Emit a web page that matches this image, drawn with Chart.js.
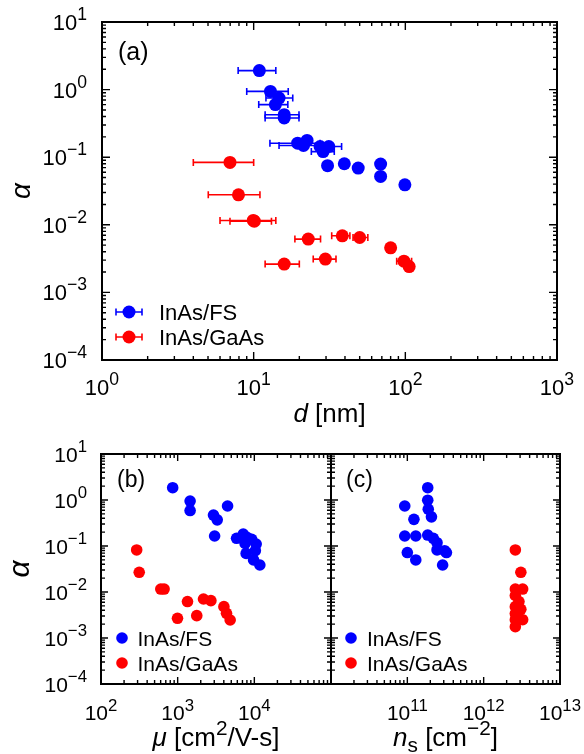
<!DOCTYPE html>
<html><head><meta charset="utf-8">
<script src="https://cdn.jsdelivr.net/npm/chart.js@4"></script>
<style>html,body{margin:0;padding:0;background:#fff}canvas{position:absolute}</style>
</head><body>
<div style="position:relative;width:584px;height:754px;overflow:hidden">
<canvas id="ca" width="584" height="430" style="left:0;top:0"></canvas>
<canvas id="cb" width="341" height="324" style="left:0;top:430px"></canvas>
<canvas id="cc" width="263" height="324" style="left:321px;top:430px"></canvas>
</div>
<script>
// ---------- DATA ----------
// panel (a): alpha vs d [nm]
const dFS      = [10.9, 12.9, 14.7, 13.9, 15.9, 15.9, 19.5, 22.5, 21.3, 27.4, 31.3, 28.7, 30.7, 39.6, 48.9, 68.7, 68.7, 99.3];
const alphaFS_d= [1.91, 0.94, 0.75, 0.60, 0.425,0.38, 0.161,0.177,0.149,0.144,0.144,0.121,0.075,0.080,0.069,0.079,0.052,0.039];
const dFSlo    = [7.9,  9.0,  12.05,10.8, 11.9, 11.9, 12.8, null, 14.7, null, 26.0, 24.0, null, null, null, null, null, null];
const dFShi    = [14.0, 16.9, 18.1, 16.8, 19.9, 19.9, 27.4, null, 27.4, null, 38.0, 34.0, null, null, null, null, null, null];

const dGaAs      = [6.98, 7.94, 9.94, 10.1, 22.9, 38.4, 50.0, 15.9, 29.7, 80.0, 97.9, 106];
const alphaGaAs_d= [0.0837,0.0278,0.0116,0.0113,0.00614,0.00687,0.00649,0.00262,0.00311,0.00456,0.0029,0.00241];
const dGaAslo    = [4.0, 5.02, 6.0, 6.98, 18.7, 32.7, 45.2, 11.9, 24.7, null, 87.7, null];
const dGaAshi    = [10.0,11.0, 14.0,13.1, 27.6, 43.1, 56.6, 20.0, 34.9, null, 110, null];

// panel (b): alpha vs mobility [cm^2/V-s]
const muFS       = [861, 1453, 1453, 2933, 3281, 4477, 3033, 5865, 7164, 8000, 9248, 7570, 10570, 7819, 10300, 9770, 11800];
const alphaFS_mu = [1.85, 0.95, 0.59, 0.47, 0.37, 0.74, 0.165,0.147,0.182,0.154,0.14, 0.114,0.110, 0.069,0.079, 0.0497,0.0386];
const muGaAs       = [292, 315, 603, 665, 1343, 2172, 2712, 995, 1774, 4010, 4335, 4840];
const alphaGaAs_mu = [0.082,0.0268,0.0116,0.0116,0.0062,0.00705,0.00648,0.00268,0.00306,0.0048,0.00344,0.00246];

// panel (c): alpha vs sheet density [cm^-2]
const nsFS       = [9.25e10,1.85e11,1.85e11,1.88e11,2.07e11,1.22e11,9.25e10,1.29e11,1.85e11,2.19e11,2.45e11,3.08e11,3.25e11,1.0e11,1.29e11,2.9e11,2.45e11];
const alphaFS_ns = [0.74, 1.85, 0.99, 0.63, 0.43, 0.38, 0.165,0.165,0.173,0.147,0.118,0.079,0.072,0.072,0.0497,0.0386,0.082];
const nsGaAs       = [2.6e12,3.07e12,2.6e12,3.24e12,2.6e12,2.9e12,2.6e12,3.07e12,2.6e12,2.9e12,2.6e12,3.24e12,2.6e12];
const alphaGaAs_ns = [0.082,0.0268,0.0116,0.0116,0.0084,0.0062,0.0048,0.0042,0.0034,0.0026,0.0025,0.0025,0.00176];

const seriesNames = ['InAs/FS', 'InAs/GaAs'];
const yDecades = [-4,-3,-2,-1,0,1];
const xDecA = [0,1,2,3];
const xDecB = [2,3,4];
const xDecC = [11,12,13];

// ---------- helpers ----------
const FONT = '"Liberation Sans", Arial, Helvetica, sans-serif';
const BLUE = '#0000ff', RED = '#ff0000';
const pts = (xs, ys) => xs.map((x, i) => ({x, y: ys[i]}));

function drawPow(ctx, exp, x, y, align, size) {
  const base = '10', e = String(exp).replace('-', '\u2212');
  ctx.font = size + 'px ' + FONT;
  const wb = ctx.measureText(base).width;
  const es = size * 0.8;
  ctx.font = es + 'px ' + FONT;
  const we = ctx.measureText(e).width;
  const total = wb + we;
  const x0 = align === 'right' ? x - total : align === 'center' ? x - total / 2 : x;
  ctx.textAlign = 'left'; ctx.textBaseline = 'alphabetic'; ctx.fillStyle = '#000';
  ctx.font = size + 'px ' + FONT; ctx.fillText(base, x0, y);
  ctx.font = es + 'px ' + FONT; ctx.fillText(e, x0 + wb, y - size * 0.45);
}

// rich text: parts [{t, it, sup, sub}]
function richWidth(ctx, parts, size) {
  let w = 0;
  for (const p of parts) {
    const s = (p.sup || p.sub) ? size * 0.8 : size;
    ctx.font = (p.it ? 'italic ' : '') + s + 'px ' + FONT;
    w += ctx.measureText(p.t).width;
  }
  return w;
}
function drawRich(ctx, parts, cx, y, size) {
  const w = richWidth(ctx, parts, size);
  let x = cx - w / 2;
  ctx.textAlign = 'left'; ctx.textBaseline = 'alphabetic'; ctx.fillStyle = '#000';
  for (const p of parts) {
    const s = (p.sup || p.sub) ? size * 0.8 : size;
    ctx.font = (p.it ? 'italic ' : '') + s + 'px ' + FONT;
    const dy = p.sup ? -size * 0.42 : p.sub ? size * 0.22 : 0;
    ctx.fillText(p.t, x, y + dy);
    x += ctx.measureText(p.t).width;
  }
}

const errPlugin = {
  id: 'errbars',
  beforeDatasetDraw(chart, args) {
    const ds = chart.data.datasets[args.index];
    if (!ds.xLo) return;
    const {ctx} = chart, xs = chart.scales.x, ys = chart.scales.y;
    ctx.save();
    ctx.strokeStyle = ds.backgroundColor; ctx.lineWidth = 1.6;
    ds.data.forEach((p, i) => {
      const lo = ds.xLo[i], hi = ds.xHi[i];
      if (lo == null || hi == null) return;
      const y = ys.getPixelForValue(p.y);
      const x1 = xs.getPixelForValue(lo), x2 = xs.getPixelForValue(hi);
      ctx.beginPath();
      ctx.moveTo(x1, y); ctx.lineTo(x2, y);
      ctx.moveTo(x1, y - 3.5); ctx.lineTo(x1, y + 3.5);
      ctx.moveTo(x2, y - 3.5); ctx.lineTo(x2, y + 3.5);
      ctx.stroke();
    });
    ctx.restore();
  }
};

const framePlugin = {
  id: 'frame',
  afterDraw(chart, args, o) {
    const {ctx, chartArea: {left, right, top, bottom}} = chart;
    const xs = chart.scales.x, ys = chart.scales.y;
    ctx.save();
    ctx.strokeStyle = '#000'; ctx.lineWidth = 1.4;
    ctx.beginPath();
    const logTicks = (sc, cb) => {
      const lo = Math.round(Math.log10(sc.min)), hi = Math.round(Math.log10(sc.max));
      for (let k = lo; k <= hi; k++) {
        for (let m = 1; m <= 9; m++) {
          const v = m * Math.pow(10, k);
          if (v < sc.min * 0.999 || v > sc.max * 1.001) continue;
          cb(sc.getPixelForValue(v), m === 1 ? o.major : o.minor);
        }
      }
    };
    logTicks(xs, (px, L) => {
      ctx.moveTo(px, bottom); ctx.lineTo(px, bottom - L);
      ctx.moveTo(px, top); ctx.lineTo(px, top + L);
    });
    logTicks(ys, (py, L) => {
      ctx.moveTo(left, py); ctx.lineTo(left + L, py);
      ctx.moveTo(right, py); ctx.lineTo(right - L, py);
    });
    ctx.stroke();
    ctx.lineWidth = 2;
    ctx.strokeRect(left, top, right - left, bottom - top);

    // tick labels
    for (const k of o.xDec) drawPow(ctx, k, xs.getPixelForValue(Math.pow(10, k)), o.xLabelY, 'center', o.tickSize);
    if (o.yLabels) for (const k of yDecades) drawPow(ctx, k, left - o.yGap, ys.getPixelForValue(Math.pow(10, k)) + 0.36 * o.tickSize, 'right', o.tickSize);

    // panel label
    ctx.fillStyle = '#000'; ctx.textAlign = 'left'; ctx.textBaseline = 'alphabetic';
    ctx.font = o.panelSize + 'px ' + FONT;
    ctx.fillText(o.panel, o.panelX, o.panelY);

    // axis titles
    drawRich(ctx, o.xTitle, (left + right) / 2, o.xTitleY, o.titleSize);
    if (o.yTitle) {
      ctx.save();
      ctx.translate(o.yTitleX, (top + bottom) / 2);
      ctx.rotate(-Math.PI / 2);
      ctx.font = 'italic ' + o.yTitleSize + 'px ' + FONT;
      ctx.textAlign = 'center'; ctx.textBaseline = 'middle'; ctx.fillStyle = '#000';
      ctx.fillText('\u03B1', 0, 0);
      ctx.restore();
    }

    // legend
    const L = o.legend;
    chart.data.datasets.forEach((ds, i) => {
      const y = L.y + i * L.dy;
      ctx.fillStyle = ds.backgroundColor; ctx.strokeStyle = ds.backgroundColor;
      if (L.err) {
        ctx.lineWidth = 1.6; ctx.beginPath();
        ctx.moveTo(L.mx - L.eh, y); ctx.lineTo(L.mx + L.eh, y);
        ctx.moveTo(L.mx - L.eh, y - 3.5); ctx.lineTo(L.mx - L.eh, y + 3.5);
        ctx.moveTo(L.mx + L.eh, y - 3.5); ctx.lineTo(L.mx + L.eh, y + 3.5);
        ctx.stroke();
      }
      ctx.beginPath(); ctx.arc(L.mx, y, ds.pointRadius, 0, Math.PI * 2); ctx.fill();
      ctx.fillStyle = '#000'; ctx.font = L.size + 'px ' + FONT;
      ctx.textAlign = 'left'; ctx.textBaseline = 'alphabetic';
      ctx.fillText(ds.label, L.tx, y + 0.36 * L.size);
    });
    ctx.restore();
  }
};

function makeChart(id, cfg) {
  const mk = (label, color, data, r, lo, hi) => ({
    label, data, backgroundColor: color, borderColor: color, borderWidth: 0,
    pointRadius: r, pointHoverRadius: r, pointStyle: 'circle', xLo: lo, xHi: hi
  });
  return new Chart(document.getElementById(id), {
    type: 'scatter',
    data: { datasets: [
      mk(seriesNames[0], BLUE, cfg.fs, cfg.r, cfg.fsLo, cfg.fsHi),
      mk(seriesNames[1], RED, cfg.ga, cfg.r, cfg.gaLo, cfg.gaHi)
    ]},
    plugins: [errPlugin, framePlugin],
    options: {
      responsive: false, animation: false, devicePixelRatio: 1,
      layout: { padding: { left: 0, top: cfg.top, right: cfg.right, bottom: 0 } },
      plugins: { legend: { display: false }, tooltip: { enabled: false }, frame: cfg.frame },
      scales: {
        x: { type: 'logarithmic', min: cfg.xmin, max: cfg.xmax, grid: { display: false }, border: { display: false },
             ticks: { display: false }, afterFit(s) { s.height = cfg.xh; } },
        y: { type: 'logarithmic', min: 1e-4, max: 10, grid: { display: false }, border: { display: false },
             ticks: { display: false }, afterFit(s) { s.width = cfg.yw; } }
      }
    }
  });
}

// panel (a)
makeChart('ca', {
  fs: pts(dFS, alphaFS_d), ga: pts(dGaAs, alphaGaAs_d), r: 6.5,
  fsLo: dFSlo, fsHi: dFShi, gaLo: dGaAslo, gaHi: dGaAshi,
  xmin: 1, xmax: 1000, top: 22, right: 27, xh: 70, yw: 102,
  frame: { major: 8, minor: 4, xDec: xDecA, xLabelY: 395, yLabels: true, yGap: 15, tickSize: 22,
    panel: '(a)', panelX: 118, panelY: 60, panelSize: 25,
    xTitle: [{t: 'd', it: true}, {t: ' [nm]'}], xTitleY: 422, titleSize: 26,
    yTitle: true, yTitleX: 22, yTitleSize: 28,
    legend: { err: true, mx: 129, eh: 13, tx: 159, y: 312, dy: 25, size: 22 } }
});

// panel (b)
makeChart('cb', {
  fs: pts(muFS, alphaFS_mu), ga: pts(muGaAs, alphaGaAs_mu), r: 5.8,
  xmin: 1e2, xmax: 1e5, top: 24, right: 10, xh: 70, yw: 101,
  frame: { major: 7, minor: 4, xDec: xDecB, xLabelY: 290, yLabels: true, yGap: 14, tickSize: 21,
    panel: '(b)', panelX: 117, panelY: 57, panelSize: 23,
    xTitle: [{t: '\u03BC', it: true}, {t: ' [cm'}, {t: '2', sup: true}, {t: '/V-s]'}], xTitleY: 316, titleSize: 26,
    yTitle: true, yTitleX: 21, yTitleSize: 30,
    legend: { err: false, mx: 122, tx: 137.5, y: 208, dy: 25, size: 21 } }
});

// panel (c)
makeChart('cc', {
  fs: pts(nsFS, alphaFS_ns), ga: pts(nsGaAs, alphaGaAs_ns), r: 5.8,
  xmin: 1e10, xmax: 1e13, top: 24, right: 24, xh: 70, yw: 10,
  frame: { major: 7, minor: 4, xDec: xDecC, xLabelY: 290, yLabels: false, tickSize: 21,
    panel: '(c)', panelX: 25, panelY: 57, panelSize: 23,
    xTitle: [{t: 'n', it: true}, {t: 's', sub: true}, {t: ' [cm'}, {t: '\u22122', sup: true}, {t: ']'}], xTitleY: 316, titleSize: 26,
    yTitle: false,
    legend: { err: false, mx: 30, tx: 46, y: 208, dy: 25, size: 21 } }
});
</script>
</body></html>
